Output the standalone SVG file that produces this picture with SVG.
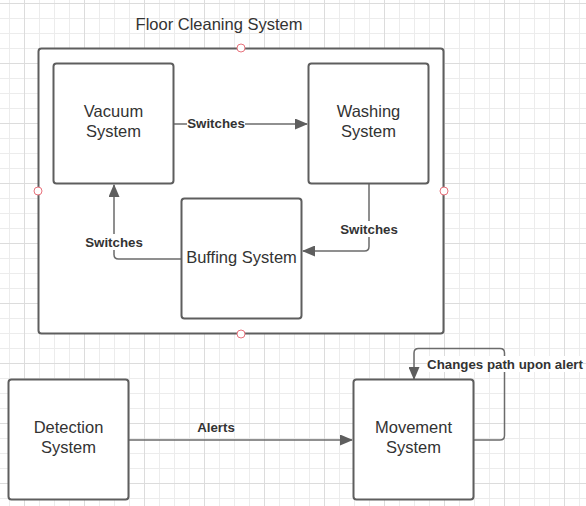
<svg xmlns="http://www.w3.org/2000/svg" width="586" height="506" viewBox="0 0 586 506">
<style>
.node{fill:#ffffff;stroke:#5e5e5e;stroke-width:2}
.ntext{font-family:"Liberation Sans",Arial,sans-serif;font-size:16.5px;fill:#333333;text-anchor:middle}
.lbl{font-family:"Liberation Sans",Arial,sans-serif;font-size:13.3px;font-weight:bold;fill:#333333;text-anchor:middle}
.conn{fill:none;stroke:#6b6b6b;stroke-width:1.5}
.pt{fill:#ffffff;stroke:#e8737d;stroke-width:1}
.bg{fill:#ffffff}
</style>
<defs>
<pattern id="grid" patternUnits="userSpaceOnUse" x="9" y="3" width="60" height="60">
<path d="M0.5 0V60M30.5 0V60M45.5 0V60M0 15.5H60M0 30.5H60M0 45.5H60" stroke="#ececec" stroke-width="1" fill="none"/>
<path d="M15.5 0V60M0 0.5H60" stroke="#dcdcdc" stroke-width="1" fill="none"/>
</pattern>
<marker id="arr" markerUnits="userSpaceOnUse" markerWidth="13" markerHeight="11" viewBox="0 0 13 11" refX="12" refY="5.5" orient="auto">
<path d="M0 0L13 5.5L0 11z" fill="#5e5e5e"/>
</marker>
</defs>
<rect width="586" height="506" fill="#ffffff"/>
<rect width="586" height="506" fill="url(#grid)"/>

<g id="floor-cleaning-system">
<rect class="node" x="38.5" y="48.5" width="405" height="285" rx="3"/>
<text class="ntext" x="219" y="30">Floor Cleaning System</text>
<circle class="pt" cx="241" cy="48" r="4"/>
<circle class="pt" cx="38" cy="191" r="4"/>
<circle class="pt" cx="444" cy="191" r="4"/>
<circle class="pt" cx="241" cy="334" r="4"/>
</g>

<g id="connectors">
<path class="conn" d="M174 124H307" marker-end="url(#arr)"/>
<path class="conn" d="M369 184V246.5Q369 251 364.5 251H303" marker-end="url(#arr)"/>
<path class="conn" d="M181 259H118.5Q114 259 114 254.5V185" marker-end="url(#arr)"/>
<path class="conn" d="M129 440H352" marker-end="url(#arr)"/>
<path class="conn" d="M474 440H500Q504.5 440 504.5 435.5V353Q504.5 348.5 500 348.5H418.5Q414 348.5 414 353V379" marker-end="url(#arr)"/>
<rect class="bg" x="187" y="116" width="58" height="16"/>
<text class="lbl" x="216" y="127.5">Switches</text>
<rect class="bg" x="340" y="221" width="58" height="16"/>
<text class="lbl" x="369" y="233.5">Switches</text>
<rect class="bg" x="85" y="234" width="58" height="16"/>
<text class="lbl" x="114" y="246.5">Switches</text>
<text class="lbl" x="216" y="431.5">Alerts</text>
<rect class="bg" x="427" y="356" width="156" height="16"/>
<text class="lbl" x="505" y="368.5">Changes path upon alert</text>
</g>

<g id="vacuum-system">
<rect class="node" x="53.5" y="63.5" width="120" height="120" rx="3"/>
<text class="ntext" x="113.5" y="117">Vacuum</text>
<text class="ntext" x="113.5" y="137">System</text>
</g>
<g id="washing-system">
<rect class="node" x="308.5" y="63.5" width="120" height="120" rx="3"/>
<text class="ntext" x="368.5" y="117">Washing</text>
<text class="ntext" x="368.5" y="137">System</text>
</g>
<g id="buffing-system">
<rect class="node" x="181.5" y="198.5" width="120" height="120" rx="3"/>
<text class="ntext" x="241.5" y="263">Buffing System</text>
</g>
<g id="detection-system">
<rect class="node" x="8.5" y="379.5" width="120" height="120" rx="3"/>
<text class="ntext" x="68.5" y="433">Detection</text>
<text class="ntext" x="68.5" y="453">System</text>
</g>
<g id="movement-system">
<rect class="node" x="353.5" y="379.5" width="120" height="120" rx="3"/>
<text class="ntext" x="413.5" y="433">Movement</text>
<text class="ntext" x="413.5" y="453">System</text>
</g>
</svg>
